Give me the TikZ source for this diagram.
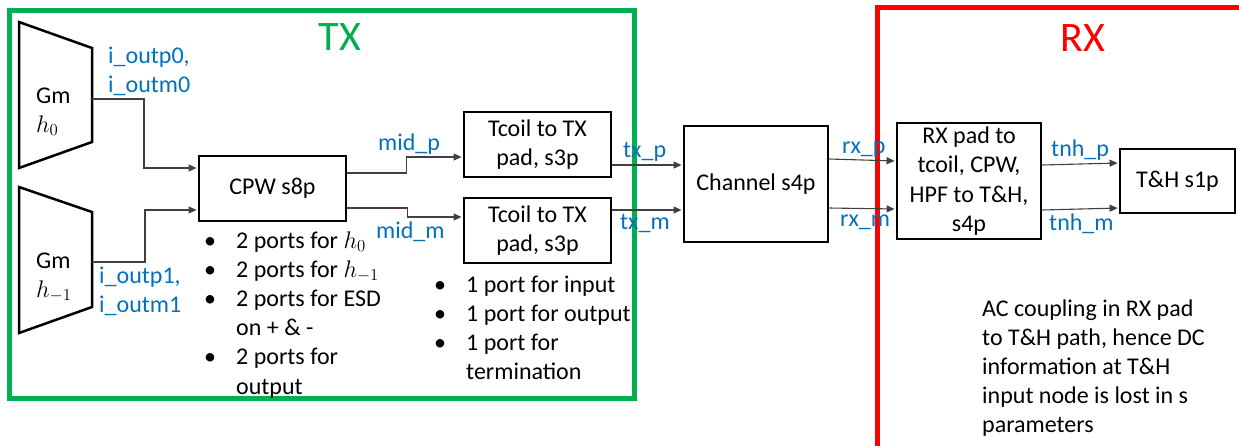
\RequirePackage{fix-cm}
\documentclass[tikz,border=0pt]{standalone}
\usepackage{fontspec}
\setmainfont{Carlito}
\usetikzlibrary{arrows.meta,calc}
\definecolor{txgreen}{HTML}{00B050}
\definecolor{rxred}{HTML}{FF0000}
\definecolor{lblue}{HTML}{0070C0}
\begin{document}
\begin{tikzpicture}[x=1pt,y=-1pt,
  txt/.style={font=\fontsize{24}{29.2}\selectfont, inner sep=0pt},
  blk/.style={txt, draw=black, line width=2.5pt, align=center},
  conn/.style={draw=black!75, line width=1.1pt, shorten >=1.2pt, -{Triangle[length=8pt,width=7pt]}},
  lbl/.style={txt, text=lblue, anchor=base west},
  frm/.style={line width=5pt},
  gm/.style={draw=black, line width=2.5pt, line join=miter},
  ]
\useasboundingbox (0,0) rectangle (1239,445);

% frames
\draw[frm, txgreen] (9.5,10) rectangle (634,398);
\draw[frm, rxred] (877,460) -- (877,7) -- (1250,7);
\node[text=txgreen, font=\fontsize{42}{50}\selectfont] (txlab) at (340,37) {TX};
\node[text=rxred, font=\fontsize{42}{50}\selectfont] (rxlab) at (1083,38) {RX};

% Gm blocks
\draw[gm] (19,22) -- (92,48) -- (92,142) -- (19,168) -- cycle;
\draw[gm] (19,187) -- (92,212) -- (92,307) -- (19,333) -- cycle;
\coordinate (g0o) at (92,99);
\coordinate (g1o) at (92,262);
\node[txt, anchor=base west] (gm0) at (36,103) {\begin{tabular}[t]{@{}l@{}}Gm\\$h_0$\end{tabular}};
\node[txt, anchor=base west] (gm1) at (36,268) {\begin{tabular}[t]{@{}l@{}}Gm\\$h_{-1}$\end{tabular}};

% boxes
\node[blk, minimum width=147pt, minimum height=65pt] (cpw) at (272.5,188.5) {CPW s8p};
\node[blk, minimum width=147pt, minimum height=65pt] (tc1) at (537.5,144.5) {Tcoil to TX\\pad, s3p};
\node[blk, minimum width=147pt, minimum height=65pt] (tc2) at (537.5,230.5) {Tcoil to TX\\pad, s3p};
\node[blk, minimum width=144pt, minimum height=116pt] (ch) at (756,184) {Channel s4p};
\node[blk, minimum width=144pt, minimum height=116pt] (rxp) at (969,181) {RX pad to\\tcoil, CPW,\\HPF to T\&H,\\s4p};
\node[blk, minimum width=115pt, minimum height=64pt] (th) at (1177.5,181) {T\&H s1p};

% connectors
\draw[conn] (g0o) -- ++(52,0) |- ([yshift=20.5pt]cpw.west);
\draw[conn] (g1o) -- ++(53,0) |- ([yshift=-21.5pt]cpw.west);
\draw[conn] ([yshift=15.5pt]cpw.east) -- ++(59,0) |- ([yshift=-12.5pt]tc1.west);
\draw[conn] ([yshift=-19.5pt]cpw.east) -- ++(60,0) |- ([yshift=13.5pt]tc2.west);
\draw[conn] ([yshift=-20.5pt]tc1.east) -- ([yshift=19pt]ch.west);
\draw[conn] ([yshift=20.5pt]tc2.east) -- ([yshift=-26pt]ch.west);
\draw[conn] ([yshift=25pt]ch.east) -- ([yshift=20pt]rxp.west);
\draw[conn] ([yshift=-24pt]ch.east) -- ([yshift=-28pt]rxp.west);
\draw[conn] ([yshift=16pt]rxp.east) -- ([yshift=18pt]th.west);
\draw[conn] ([yshift=-29pt]rxp.east) -- ([yshift=-27pt]th.west);

% labels
\node[lbl] (l0) at (108,63) {\begin{tabular}[t]{@{}l@{}}i\_outp0,\\i\_outm0\end{tabular}};
\node[lbl] (l1) at (99,283) {\begin{tabular}[t]{@{}l@{}}i\_outp1,\\i\_outm1\end{tabular}};
\node[lbl] (lmp) at (378,150) {mid\_p};
\node[lbl] (lmm) at (376,238) {mid\_m};
\node[lbl] (ltp) at (623,157) {tx\_p};
\node[lbl] (ltm) at (620,229) {tx\_m};
\node[lbl] (lrp) at (842,153) {rx\_p};
\node[lbl] (lrm) at (840,226) {rx\_m};
\node[lbl] (lnp) at (1051,156) {tnh\_p};
\node[lbl] (lnm) at (1049,230) {tnh\_m};

% notes
\node[txt, anchor=base west] (cpwl) at (204,248) {\begin{tabular}[t]{@{}p{32pt}@{}l@{}}
\textbullet & 2 ports for $h_0$\\
\textbullet & 2 ports for $h_{-1}$\\
\textbullet & 2 ports for ESD\\
 & on + \& -\\
\textbullet & 2 ports for\\
 & output
\end{tabular}};
\node[txt, anchor=base west] (tcl) at (434,292) {\begin{tabular}[t]{@{}p{32pt}@{}l@{}}
\textbullet & 1 port for input\\
\textbullet & 1 port for output\\
\textbullet & 1 port for\\
 & termination
\end{tabular}};
\node[txt, anchor=base west] (acn) at (982,316) {\begin{tabular}[t]{@{}l@{}}
AC coupling in RX pad\\
to T\&H path, hence DC\\
information at T\&H\\
input node is lost in s\\
parameters
\end{tabular}};
\end{tikzpicture}
\end{document}
